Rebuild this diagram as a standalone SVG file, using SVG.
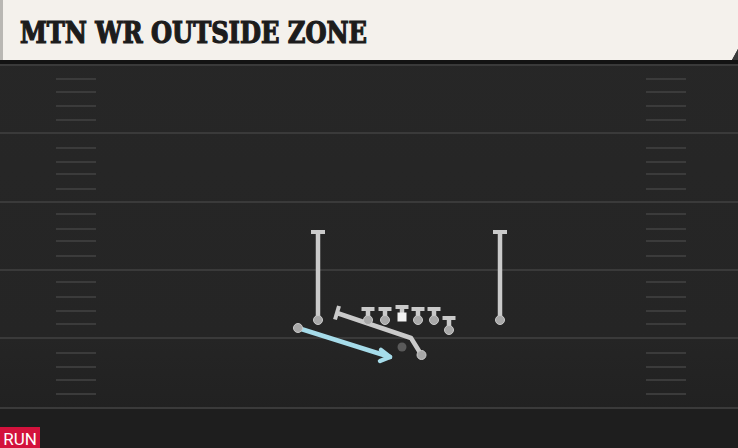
<svg xmlns="http://www.w3.org/2000/svg" width="738" height="448" viewBox="0 0 738 448">
<defs>
<style>
.yard{stroke:#3a3a3a;stroke-width:2}
.hash{stroke:#3b3b3b;stroke-width:2}
.route{stroke:#cacaca;stroke-width:4.5;fill:none;stroke-linejoin:round}
.tbar{stroke:#cacaca;stroke-width:4;fill:none}
.pl{fill:#a8a8a8;stroke:#cacaca;stroke-width:1}
.blue{stroke:#a6dcea;stroke-width:4.5;fill:none;stroke-linecap:round;stroke-linejoin:round}
</style>
<linearGradient id="fieldg" x1="0" y1="0" x2="0" y2="1">
<stop offset="0" stop-color="#272727"/>
<stop offset="0.75" stop-color="#252525"/>
<stop offset="1" stop-color="#1f1f1f"/>
</linearGradient>
</defs>
<rect x="0" y="0" width="738" height="448" fill="url(#fieldg)"/>
<rect x="0" y="408" width="738" height="40" fill="#1e1e1e"/>
<g id="field">
<line class="yard" x1="0" y1="65" x2="738" y2="65"/>
<line class="yard" x1="0" y1="133" x2="738" y2="133"/>
<line class="yard" x1="0" y1="202" x2="738" y2="202"/>
<line class="yard" x1="0" y1="270" x2="738" y2="270"/>
<line class="yard" x1="0" y1="338" x2="738" y2="338"/>
<line class="yard" x1="0" y1="408" x2="738" y2="408"/>
<g id="hash-left">
<line class="hash" x1="56" y1="79" x2="96" y2="79"/>
<line class="hash" x1="56" y1="92" x2="96" y2="92"/>
<line class="hash" x1="56" y1="106" x2="96" y2="106"/>
<line class="hash" x1="56" y1="120" x2="96" y2="120"/>
<line class="hash" x1="56" y1="148" x2="96" y2="148"/>
<line class="hash" x1="56" y1="162" x2="96" y2="162"/>
<line class="hash" x1="56" y1="174" x2="96" y2="174"/>
<line class="hash" x1="56" y1="189" x2="96" y2="189"/>
<line class="hash" x1="56" y1="214" x2="96" y2="214"/>
<line class="hash" x1="56" y1="229" x2="96" y2="229"/>
<line class="hash" x1="56" y1="241" x2="96" y2="241"/>
<line class="hash" x1="56" y1="256" x2="96" y2="256"/>
<line class="hash" x1="56" y1="282" x2="96" y2="282"/>
<line class="hash" x1="56" y1="297" x2="96" y2="297"/>
<line class="hash" x1="56" y1="311" x2="96" y2="311"/>
<line class="hash" x1="56" y1="324" x2="96" y2="324"/>
<line class="hash" x1="56" y1="353" x2="96" y2="353"/>
<line class="hash" x1="56" y1="367" x2="96" y2="367"/>
<line class="hash" x1="56" y1="380" x2="96" y2="380"/>
<line class="hash" x1="56" y1="394" x2="96" y2="394"/>
</g>
<g id="hash-right">
<line class="hash" x1="646" y1="79" x2="686" y2="79"/>
<line class="hash" x1="646" y1="92" x2="686" y2="92"/>
<line class="hash" x1="646" y1="106" x2="686" y2="106"/>
<line class="hash" x1="646" y1="120" x2="686" y2="120"/>
<line class="hash" x1="646" y1="148" x2="686" y2="148"/>
<line class="hash" x1="646" y1="162" x2="686" y2="162"/>
<line class="hash" x1="646" y1="174" x2="686" y2="174"/>
<line class="hash" x1="646" y1="189" x2="686" y2="189"/>
<line class="hash" x1="646" y1="214" x2="686" y2="214"/>
<line class="hash" x1="646" y1="229" x2="686" y2="229"/>
<line class="hash" x1="646" y1="241" x2="686" y2="241"/>
<line class="hash" x1="646" y1="256" x2="686" y2="256"/>
<line class="hash" x1="646" y1="282" x2="686" y2="282"/>
<line class="hash" x1="646" y1="297" x2="686" y2="297"/>
<line class="hash" x1="646" y1="311" x2="686" y2="311"/>
<line class="hash" x1="646" y1="324" x2="686" y2="324"/>
<line class="hash" x1="646" y1="353" x2="686" y2="353"/>
<line class="hash" x1="646" y1="367" x2="686" y2="367"/>
<line class="hash" x1="646" y1="380" x2="686" y2="380"/>
<line class="hash" x1="646" y1="394" x2="686" y2="394"/>
</g>
</g>
<g id="banner">
<rect x="0" y="59" width="738" height="5" fill="#131313"/>
<path d="M0 0 H738 V49 L732 60 H0 Z" fill="#f4f1ec"/>
<path d="M738 49 L732 60 H738 Z" fill="#3a3a3a"/>
<rect x="0" y="0" width="3" height="60" fill="#b9b7b3"/>
<text x="20" y="43" font-family="'DejaVu Serif Condensed','DejaVu Serif',serif" font-weight="bold" font-size="29" fill="#1c1c1c" stroke="#1c1c1c" stroke-width="1.2" textLength="347" lengthAdjust="spacingAndGlyphs">MTN WR OUTSIDE ZONE</text>
</g>
<g id="connectors">
<path class="route" d="M318 320 V232"/>
<line class="tbar" x1="311" y1="232" x2="325" y2="232"/>
<path class="route" d="M500 320 V232"/>
<line class="tbar" x1="493" y1="232" x2="507" y2="232"/>
<path class="route" d="M368 320 V309"/><line class="tbar" x1="361.5" y1="309" x2="374.5" y2="309"/>
<path class="route" d="M385 320 V309"/><line class="tbar" x1="378.5" y1="309" x2="391.5" y2="309"/>
<path class="route" d="M402 317 V307"/><line class="tbar" x1="395.5" y1="307" x2="408.5" y2="307"/>
<path class="route" d="M418 320 V309"/><line class="tbar" x1="411.5" y1="309" x2="424.5" y2="309"/>
<path class="route" d="M434 320 V309"/><line class="tbar" x1="427.5" y1="309" x2="440.5" y2="309"/>
<path class="route" d="M449 330 V318"/><line class="tbar" x1="442.5" y1="318" x2="455.5" y2="318"/>
<path class="route" d="M421.5 355 L411 338 L337 313"/>
<line class="tbar" x1="339" y1="306" x2="335" y2="319.5"/>
<path class="blue" d="M298 328 L390 357"/>
<path class="blue" d="M381 350 L390 357 L380 361"/>
</g>
<g id="wr-left"><circle class="pl" cx="318" cy="320" r="4.5"/></g>
<g id="wr-right"><circle class="pl" cx="500" cy="320" r="4.5"/></g>
<g id="lt"><circle class="pl" cx="368" cy="320" r="4.5"/></g>
<g id="lg"><circle class="pl" cx="385" cy="320" r="4.5"/></g>
<g id="c"><rect x="397.5" y="312.5" width="9" height="9" fill="#f2f2f2"/></g>
<g id="rg"><circle class="pl" cx="418" cy="320" r="4.5"/></g>
<g id="rt"><circle class="pl" cx="434" cy="320" r="4.5"/></g>
<g id="te"><circle class="pl" cx="449" cy="330" r="4.5"/></g>
<g id="hb"><circle class="pl" cx="421.5" cy="355" r="4.5"/></g>
<g id="qb"><circle cx="402" cy="347" r="4.5" fill="#5a5a5a"/></g>
<g id="rb"><circle class="pl" cx="298" cy="328" r="4.5"/></g>
<g id="tag">
<rect x="0" y="427" width="40" height="21" fill="#d3123c"/>
<text x="20" y="445" text-anchor="middle" font-family="Roboto,'Liberation Sans',sans-serif" font-size="17" fill="#ffffff">RUN</text>
</g>
</svg>
